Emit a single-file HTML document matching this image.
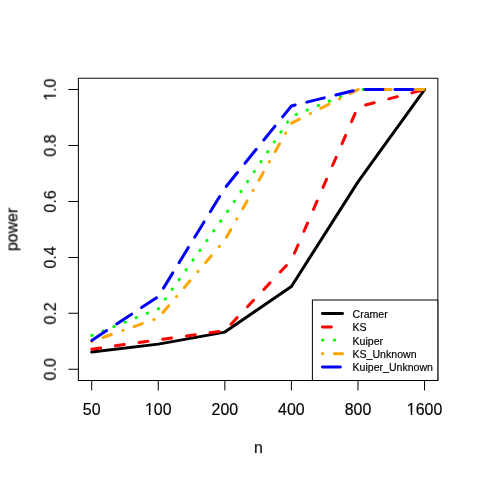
<!DOCTYPE html><html><head><meta charset="utf-8"><style>html,body{margin:0;padding:0;background:#fff;overflow:hidden}svg{display:block;will-change:transform}text{font-family:"Liberation Sans",sans-serif;fill:#000;stroke:#000;stroke-width:.15px}</style></head><body>
<svg width="478" height="478" viewBox="0 0 480 480">
<rect width="480" height="480" fill="#fff"/>
<polyline points="92.09,353.43 158.93,345.56 225.78,333.49 292.62,287.70 359.47,182.65 426.31,89.96" fill="none" stroke="#000000" stroke-width="3" stroke-linecap="round" stroke-linejoin="round"/>
<polyline points="92.09,350.62 158.93,341.21 225.78,332.08 292.62,261.30 359.47,107.37 426.31,89.96" fill="none" stroke="#ff0000" stroke-width="3" stroke-linecap="round" stroke-linejoin="round" stroke-dasharray="9 15"/>
<polyline points="92.09,336.86 158.93,310.17 225.78,216.36 292.62,116.92 359.47,89.96 426.31,89.96" fill="none" stroke="#00ff00" stroke-width="3" stroke-linecap="round" stroke-linejoin="round" stroke-dasharray="0.4 11.6"/>
<polyline points="92.09,342.90 158.93,319.30 225.78,241.07 292.62,123.66 359.47,89.96 426.31,89.96" fill="none" stroke="#ffa500" stroke-width="3" stroke-linecap="round" stroke-linejoin="round" stroke-dasharray="0.4 11.6 9 12"/>
<polyline points="92.09,341.91 158.93,297.81 225.78,188.83 292.62,106.39 359.47,89.96 426.31,89.96" fill="none" stroke="#0000ff" stroke-width="3" stroke-linecap="round" stroke-linejoin="round" stroke-dasharray="18 12"/>
<g stroke="#000" stroke-width="1.01" fill="none" stroke-linecap="round" stroke-linejoin="round">
<path d="M78.72 78.72V382.08H439.68V78.72"/>
<path d="M78.72 78.52H439.68" stroke-opacity=".95"/>
<path d="M92.09 382.08v9.6"/>
<path d="M158.93 382.08v9.6"/>
<path d="M225.78 382.08v9.6"/>
<path d="M292.62 382.08v9.6"/>
<path d="M359.47 382.08v9.6"/>
<path d="M426.31 382.08v9.6"/>
<path d="M78.72 370.84h-9.6"/>
<path d="M78.72 314.67h-9.6"/>
<path d="M78.72 258.49h-9.6"/>
<path d="M78.72 202.31h-9.6"/>
<path d="M78.72 146.13h-9.6"/>
<path d="M78.72 89.96h-9.6"/>
</g>
<text x="92.09" y="416.74" font-size="16" text-anchor="middle">50</text>
<text x="158.93" y="416.74" font-size="16" text-anchor="middle">100</text>
<rect x="146.19" y="414.14" width="3.33" height="3.1" fill="#fff"/><rect x="151.12" y="414.14" width="3.3" height="3.1" fill="#fff"/>
<text x="225.78" y="416.74" font-size="16" text-anchor="middle">200</text>
<text x="292.62" y="416.74" font-size="16" text-anchor="middle">400</text>
<text x="359.47" y="416.74" font-size="16" text-anchor="middle">800</text>
<text x="426.31" y="416.74" font-size="16" text-anchor="middle">1600</text>
<rect x="409.11" y="414.14" width="3.33" height="3.1" fill="#fff"/><rect x="414.04" y="414.14" width="3.3" height="3.1" fill="#fff"/>
<text transform="translate(56.23 370.84) rotate(-90)" font-size="16" text-anchor="middle" stroke="none">0.0</text>
<text transform="translate(56.23 314.67) rotate(-90)" font-size="16" text-anchor="middle" stroke="none">0.2</text>
<text transform="translate(56.23 258.49) rotate(-90)" font-size="16" text-anchor="middle" stroke="none">0.4</text>
<text transform="translate(56.23 202.31) rotate(-90)" font-size="16" text-anchor="middle" stroke="none">0.6</text>
<text transform="translate(56.23 146.13) rotate(-90)" font-size="16" text-anchor="middle" stroke="none">0.8</text>
<text transform="translate(56.23 89.96) rotate(-90)" font-size="16" text-anchor="middle" stroke="none">1.0</text>
<g transform="translate(56.23 89.96) rotate(-90)"><rect x="-10.22" y="-2.60" width="3.33" height="3.1" fill="#fff"/><rect x="-5.29" y="-2.60" width="3.3" height="3.1" fill="#fff"/></g>
<text x="259.50" y="455.00" font-size="16" text-anchor="middle">n</text>
<text transform="translate(17.57 230.40) rotate(-90)" font-size="16" text-anchor="middle" stroke="none">power</text>
<rect x="313.70" y="301.26" width="125.98" height="80.82" fill="#fff" stroke="#000" stroke-width="1.01" stroke-linejoin="round"/>
<path d="M323.78 314.88h20.16" stroke="#000000" stroke-width="3" stroke-linecap="round" fill="none"/>
<text x="354.02" y="319.28" font-size="10.62" stroke="none">Cramer</text>
<path d="M323.78 328.32h20.16" stroke="#ff0000" stroke-width="3" stroke-linecap="round" fill="none" stroke-dasharray="9 15"/>
<text x="354.02" y="332.72" font-size="10.62" stroke="none">KS</text>
<path d="M323.78 341.76h20.16" stroke="#00ff00" stroke-width="3" stroke-linecap="round" fill="none" stroke-dasharray="0.4 11.6"/>
<text x="354.02" y="346.16" font-size="10.62" stroke="none">Kuiper</text>
<path d="M323.78 355.20h20.16" stroke="#ffa500" stroke-width="3" stroke-linecap="round" fill="none" stroke-dasharray="0.4 11.6 9 12"/>
<text x="354.02" y="359.60" font-size="10.62" stroke="none">KS_Unknown</text>
<path d="M323.78 368.64h20.16" stroke="#0000ff" stroke-width="3" stroke-linecap="round" fill="none" stroke-dasharray="18 12"/>
<text x="354.02" y="373.04" font-size="10.62" stroke="none">Kuiper_Unknown</text>
</svg></body></html>
